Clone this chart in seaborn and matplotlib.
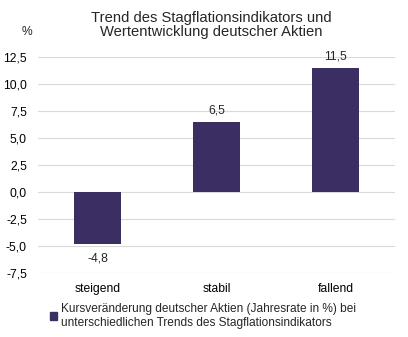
import matplotlib
matplotlib.use("Agg")
import matplotlib.pyplot as plt
import seaborn as sns
import pandas as pd
from matplotlib.patches import Patch

categories = ["steigend", "stabil", "fallend"]
values = [-4.8, 6.5, 11.5]
labels = ["-4,8", "6,5", "11,5"]
yticks = [-7.5, -5.0, -2.5, 0.0, 2.5, 5.0, 7.5, 10.0, 12.5]
ytick_labels = ["-7,5", "-5,0", "-2,5", "0,0", "2,5", "5,0", "7,5", "10,0", "12,5"]
title = "Trend des Stagflationsindikators und\nWertentwicklung deutscher Aktien"
legend_text = "Kursveränderung deutscher Aktien (Jahresrate in %) bei\nunterschiedlichen Trends des Stagflationsindikators"
color = "#3B2E62"

sns.set_theme(style="white")
plt.rcParams['font.family'] = ['Liberation Sans', 'DejaVu Sans']

df = pd.DataFrame({"cat": categories, "val": values})
fig = plt.figure(figsize=(4.08, 3.37), dpi=100)
ax = fig.add_axes([38/408, 1 - 273/337, (395-38)/408, (273-57)/337])
sns.barplot(data=df, x="cat", y="val", color=color, width=0.4, saturation=1,
            edgecolor=color, linewidth=0, ax=ax)
ax.set_ylim(-7.5, 12.5)
ax.set_yticks(yticks)
ax.set_yticklabels(ytick_labels)
ax.yaxis.grid(True, color="#D9D9D9", linewidth=0.8)
ax.set_axisbelow(True)
for s in ax.spines.values():
    s.set_visible(False)
ax.set_xlabel("")
ax.set_ylabel("")
ax.tick_params(axis="both", length=0, labelsize=8.7, colors="#000000")
ax.tick_params(axis="y", pad=8)
ax.tick_params(axis="x", pad=7)
for i, (v, l) in enumerate(zip(values, labels)):
    if v >= 0:
        ax.annotate(l, (i, v), xytext=(0, 4), textcoords="offset points", ha="center", va="bottom", fontsize=8.7)
    else:
        ax.annotate(l, (i, v), xytext=(0, -6), textcoords="offset points", ha="center", va="top", fontsize=8.7)

fig.text(211/408, 1 - 25/337, title, ha="center", va="center", fontsize=10.6, linespacing=1.0)
fig.text(27/408, 1 - 32/337, "%", ha="center", va="center", fontsize=8.7)
handle = Patch(facecolor=color, edgecolor=color)
fig.legend([handle], [legend_text], loc="upper left", bbox_to_anchor=(50/408, 1 - 303/337),
           frameon=False, fontsize=8.6, handlelength=0.6, handleheight=0.6, handletextpad=0.3,
           borderaxespad=0, borderpad=0, labelspacing=0)
fig.savefig("out.png", dpi=100)
